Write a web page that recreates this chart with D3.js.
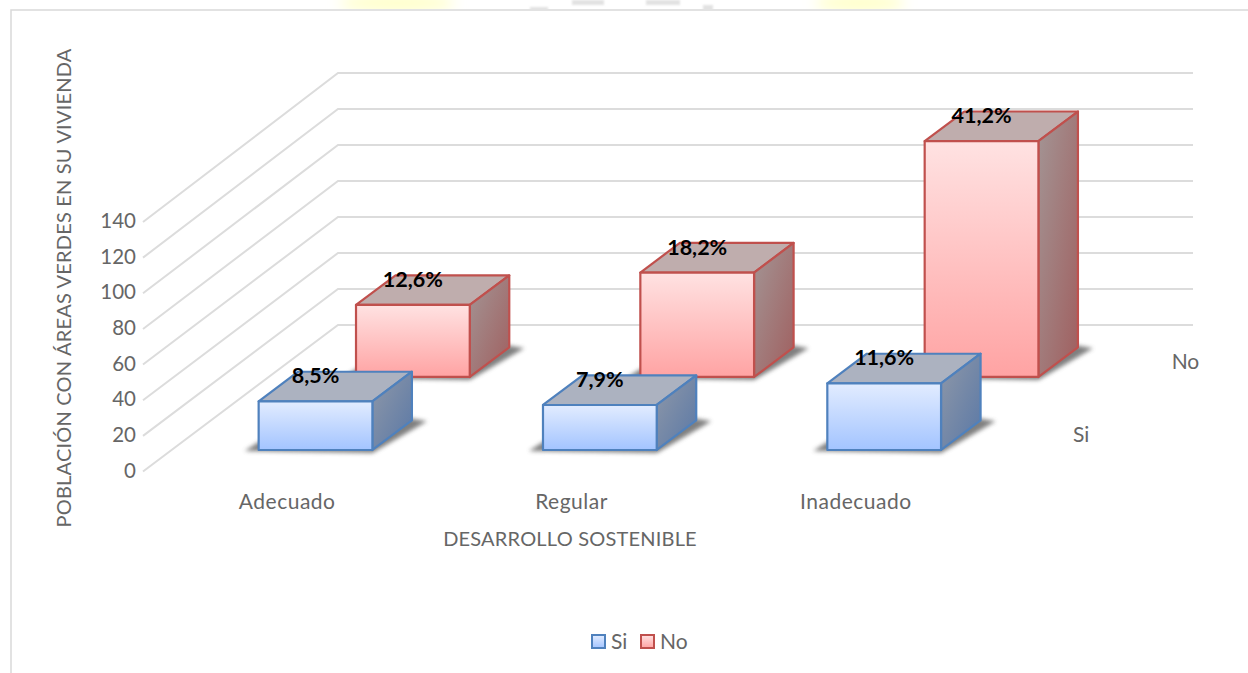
<!DOCTYPE html>
<html><head><meta charset="utf-8">
<script src="https://cdn.jsdelivr.net/npm/d3@7/dist/d3.min.js"></script>
<style>html,body{margin:0;padding:0;background:#fff}svg{display:block}text{font-family:Lato,Carlito,"Open Sans",sans-serif}</style>
</head><body><div id="c"></div>
<script>
const categories = ["Adecuado","Regular","Inadecuado"];
const seriesNames = ["Si","No"];
const siValues = [27,25,37];
const noValues = [40,58,131];
const siLabels = ["8,5%","7,9%","11,6%"];
const noLabels = ["12,6%","18,2%","41,2%"];
const yTicks = [0,20,40,60,80,100,120,140];
const xTitle = "DESARROLLO SOSTENIBLE";
const yTitle = "POBLACIÓN CON ÁREAS VERDES EN SU VIVIENDA";

const W=1248,H=673, textCol="#666";
const svg=d3.select("#c").append("svg").attr("width",W).attr("height",H);
const defs=svg.append("defs");
function grad(id,x2,y2,a,b){const g=defs.append("linearGradient").attr("id",id).attr("x1",0).attr("y1",0).attr("x2",x2).attr("y2",y2);
 g.append("stop").attr("offset","0%").attr("stop-color",a);g.append("stop").attr("offset","100%").attr("stop-color",b);}
grad("fSi",0,1,"#E2ECFF","#A3C4FF");grad("fNo",0,1,"#FFE2E2","#FFA3A3");
grad("sSi",1,1,"#8F98A8","#5A78A6");grad("sNo",1,1,"#A39595","#A05F5F");
const blur=defs.append("filter").attr("id","bl").attr("x","-20%").attr("y","-30%").attr("width","140%").attr("height","160%");
blur.append("feGaussianBlur").attr("stdDeviation",2.2);
const blur2=defs.append("filter").attr("id","bl2").attr("x","-30%").attr("y","-100%").attr("width","160%").attr("height","300%");
blur2.append("feGaussianBlur").attr("stdDeviation",7);
const blur3=defs.append("filter").attr("id","bl3").attr("x","-30%").attr("y","-100%").attr("width","160%").attr("height","300%");
blur3.append("feGaussianBlur").attr("stdDeviation",1);
defs.append("clipPath").attr("id","topClip").append("rect").attr("x",0).attr("y",0).attr("width",W).attr("height",9);

const depthDX=192, depthDY=-144;
const y=d3.scaleLinear().domain([0,140]).range([469,217]);
const yGridFront=d3.scaleLinear().domain([0,140]).range([471.5,222]);
const x=d3.scaleBand().domain(categories).range([148,1001]).paddingInner(.6).paddingOuter(.3);
const z=d3.scaleBand().domain(seriesNames).range([0,1]).paddingInner(.594).paddingOuter(.283).align(.46);
const P=(px,t,py)=>[px+t*depthDX, py+t*depthDY];
const pts=a=>a.map(p=>p.join(",")).join(" ");

// faint watermark remnant above the frame
const wm=svg.append("g").attr("clip-path","url(#topClip)");
[[397,58],[860,45]].forEach(d=>wm.append("ellipse").attr("cx",d[0]).attr("cy",3).attr("rx",d[1]).attr("ry",9).attr("fill","#FFFFC8").attr("filter","url(#bl2)"));
[[530,7,18,4],[572,0,32,5],[646,0,34,5],[703,5,10,6]].forEach(d=>wm.append("rect").attr("x",d[0]).attr("y",d[1]).attr("width",d[2]).attr("height",d[3]).attr("fill","#e2e2e2").attr("filter","url(#bl3)"));

// frame
svg.append("path").attr("d",`M11,${H}V10H${W}`).attr("fill","none").attr("stroke","#d9d9d9").attr("stroke-width",1.5);

// gridlines
const xL=143,xR=1001;
svg.append("g").selectAll("polyline").data(yTicks).join("polyline")
 .attr("points",d=>pts([[xL,yGridFront(d)],[338,y(d)+depthDY],P(xR,1,y(d))]))
 .attr("fill","none").attr("stroke","#dcdcdc").attr("stroke-width",2);

// y tick labels
svg.append("g").selectAll("text").data(yTicks).join("text")
 .attr("x",136).attr("y",d=>yGridFront(d)+6).attr("text-anchor","end").attr("font-size",20.5).attr("fill",textCol).text(d=>d);

function bars(name,vals,labels){
 const tf=z(name),tb=tf+z.bandwidth(),bw=x.bandwidth();
 const k=name==="Si"?"Si":"No",st=name==="Si"?"#4F81BD":"#C0504D",top=name==="Si"?"#ACB2C0":"#BFADAD";
 const g=svg.append("g");
 categories.forEach((c,i)=>{
  const x0=x(c),x1=x0+bw,yb=y(0),yt=y(vals[i]);
  const A=P(x0,tf,yb),B=P(x1,tf,yb),C=P(x1,tb,yb);
  const shadow=[[A[0]-14,A[1]+1],[B[0],B[1]+3],[C[0]+15,C[1]+1],[C[0]-8,C[1]-3],[A[0],A[1]-8]];
  g.append("polygon").attr("points",pts(shadow)).attr("fill","#555").attr("opacity",.75).attr("filter","url(#bl)");
  const sel=(cls,p,f)=>g.append("polygon").attr("class",cls).attr("points",pts(p)).attr("fill",f).attr("stroke",st).attr("stroke-width",2.2).attr("stroke-linejoin","round");
  sel("top",[P(x0,tf,yt),P(x1,tf,yt),P(x1,tb,yt),P(x0,tb,yt)],top);
  sel("side",[P(x1,tf,yt),P(x1,tb,yt),P(x1,tb,yb),P(x1,tf,yb)],`url(#s${k})`);
  sel("front",[P(x0,tf,yt),P(x1,tf,yt),P(x1,tf,yb),P(x0,tf,yb)],`url(#f${k})`);
 });
 return ()=>{categories.forEach((c,i)=>{
  const p=P(x(c)+bw/2,tf,y(vals[i]));
  svg.append("text").attr("x",p[0]).attr("y",p[1]-18).attr("text-anchor","middle").attr("font-size",21.5).attr("font-weight",700).attr("fill","#000").text(labels[i]);
 });};
}
const lNo=bars("No",noValues,noLabels);
const lSi=bars("Si",siValues,siLabels);
lNo();lSi();

// category labels
svg.append("g").selectAll("text").data(categories).join("text")
 .attr("x",d=>x(d)+x.bandwidth()/2-3).attr("y",509).attr("text-anchor","middle").attr("font-size",21).attr("letter-spacing",.5).attr("fill",textCol).text(d=>d);
// depth labels
svg.append("g").selectAll("text").data(seriesNames).join("text")
 .attr("x",d=>P(xR,z(d)+z.bandwidth()/2,0)[0]+(d==="Si"?35:42)).attr("y",d=>P(0,z(d)+z.bandwidth()/2,y(0))[1]+7).attr("text-anchor","middle").attr("font-size",21).attr("fill",textCol).text(d=>d);
// titles
svg.append("text").attr("x",570).attr("y",546).attr("text-anchor","middle").attr("font-size",20).attr("letter-spacing",.2).attr("fill",textCol).text(xTitle);
svg.append("text").attr("transform","translate(71,288) rotate(-90)").attr("text-anchor","middle").attr("font-size",20).attr("letter-spacing",.2).attr("fill",textCol).text(yTitle);
// legend
const legX={Si:592,No:641};
seriesNames.forEach(n=>{
 svg.append("rect").attr("x",legX[n]).attr("y",635).attr("width",13).attr("height",13).attr("fill",`url(#f${n})`).attr("stroke",n==="Si"?"#4F81BD":"#C0504D").attr("stroke-width",2);
 svg.append("text").attr("x",legX[n]+19).attr("y",649).attr("font-size",21).attr("fill",textCol).text(n);
});
</script></body></html>
